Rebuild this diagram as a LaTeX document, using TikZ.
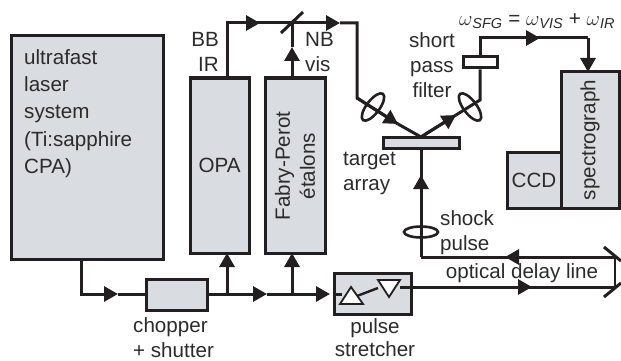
\documentclass[tikz,border=0pt]{standalone}
\usepackage{fontspec}
\setmainfont{Liberation Sans}
\usepackage{tikz}
\usetikzlibrary{arrows.meta,shapes.geometric}
\definecolor{inkline}{HTML}{231F20}
\definecolor{boxgray}{HTML}{D9DCE1}
\definecolor{inktext}{HTML}{2B2B2B}
\tikzset{
  unit/.style={draw=inkline,line width=3pt,fill=boxgray,inner sep=0pt,text=inktext,font=\fontsize{20.6}{26}\selectfont},
  lbl/.style={inner sep=0pt,text=inktext,font=\fontsize{20.6}{25}\selectfont},
  beam/.style={draw=inkline,line width=3pt},
  tipped/.style={beam,-{Triangle[length=14pt,width=15pt]}},
  lens/.style={ellipse,draw=inkline,line width=2.6pt,inner sep=0pt,minimum width=33pt,minimum height=13pt},
  prism/.style={draw=inkline,line width=1.8pt,fill=white},
}
\begin{document}
\begin{tikzpicture}[x=1pt,y=-1pt]
    \useasboundingbox (0,0) rectangle (621,361);
    % boxes
    \node[unit,minimum width=152pt,minimum height=223pt] (L) at (87,147.5) {};
    \node[lbl,align=left,anchor=north west,font=\fontsize{20.6}{27.4}\selectfont] (Ltext) at (24,49) {ultrafast\\laser\\system\\(Ti:sapphire\\CPA)};
    \node[unit,minimum width=59pt,minimum height=175pt] (OPA) at (219.5,165.5) {OPA};
    \node[unit,minimum width=60pt,minimum height=175pt,align=center] (FP) at (295,165.5) {};
    \node[lbl,rotate=90,align=center] (FPtext) at (295,166) {Fabry-Perot\\étalons};
    \node[unit,minimum width=61pt,minimum height=31pt] (CH) at (176.5,294.5) {};
    \node[unit,minimum width=77pt,minimum height=41pt] (PS) at (372.5,293.5) {};
    \node[unit,minimum width=76pt,minimum height=11pt] (T) at (421,142.5) {};
    \node[unit,fill=white,minimum width=34pt,minimum height=11pt] (F) at (480,62.5) {};
    \node[unit,minimum width=58pt,minimum height=136pt] (SP) at (590,140) {};
    \node[lbl,rotate=90] (SPtext) at (590,140) {spectrograph};
    \node[unit,minimum width=54pt,minimum height=56pt] (CCD) at (534,180) {CCD};
    % free ends of the beams
    \coordinate (La) at (81,259);
    \coordinate (Lb) at (81,294);
    \coordinate (Lc) at (118,294);
    \coordinate (OPAa) at (227,294);
    \coordinate (OPAb) at (227,253);
    \coordinate (OPAc) at (227,78);
    \coordinate (Ja) at (227,23);
    \coordinate (Jb) at (260,23);
    \coordinate (M) at (292,23);
    \coordinate (Ma) at (281,33);
    \coordinate (Mb) at (303,12);
    \coordinate (Jc) at (340,23);
    \coordinate (Jd) at (357,23);
    \coordinate (Je) at (357,98);
    \coordinate (Jf) at (398,124);
    \coordinate (Ta) at (421,137);
    \coordinate (Tb) at (456,115);
    \coordinate (Tc) at (480,100);
    \coordinate (Sa) at (480,38);
    \coordinate (Sb) at (540,38);
    \coordinate (Sc) at (588,38);
    \coordinate (Sd) at (588,72);
    \coordinate (Ca) at (267,294);
    \coordinate (Cb) at (292,294);
    \coordinate (Cc) at (330,294);
    \coordinate (FPa) at (292,78);
    \coordinate (FPb) at (292,47);
    \coordinate (Ra) at (411,287);
    \coordinate (Rb) at (532,287);
    \coordinate (Rc) at (615,287);
    \coordinate (Rd) at (615,257);
    \coordinate (Re) at (505,257);
    \coordinate (Rf) at (421,257);
    \coordinate (Rg) at (421,175);
    \coordinate (Tu) at (421,148);
    % beams
    \draw[tipped] (La) -- (Lb) -- (Lc);
    \draw[beam] (Lc) -- (CH.west |- Lc);
    \draw[tipped] (CH.east |- Lc) -- (Ca);
    \draw[beam] (Ca) -- (Cb);
    \draw[tipped] (Cb) -- (Cc);
    \draw[tipped] (OPAa) -- (OPAb);
    \draw[tipped] (Cb) -- (FPa |- OPAb);
    \draw[beam] (OPAc) -- (Ja) -- (M);
    \draw[tipped] (Ja) -- (Jb);
    \draw[tipped] (FPa) -- (FPb);
    \draw[beam] (FPb) -- (M);
    \draw[beam] (Ma) -- (Mb);
    \draw[tipped] (M) -- (Jc);
    \draw[beam] (Jc) -- (Jd) -- (Je) -- (Jf);
    \draw[tipped] (Je) -- (Jf);
    \draw[beam] (Jf) -- (Ta) -- (Tb);
    \draw[tipped] (Ta) -- (Tb);
    \draw[beam] (Tb) -- (Tc) -- (F.south -| Tc);
    \draw[beam] (F.north -| Sa) -- (Sa) -- (Sb);
    \draw[tipped] (Sa) -- (Sb);
    \draw[beam] (Sb) -- (Sc);
    \draw[tipped] (Sc) -- (Sd);
    \draw[beam] (Ra) -- (Rc);
    \draw[tipped] (Ra) -- (Rb);
    \draw[beam] (Rd) -- (Rf);
    \draw[tipped] (Rd) -- (Re);
    \draw[beam] (Rf) -- (Tu);
    \draw[tipped] (Rf) -- (Rg);
    \draw[draw=inkline,line width=1.4pt] (Rc) -- (Rd);
    \draw[beam] (604,247) -- (621,261);
    \draw[beam] (604,297) -- (621,283);
    % lenses
    \node[lens,rotate=53] (LI) at (373,107) {};
    \node[lens,rotate=-53] (LO) at (470,107) {};
    \node[lens,minimum width=34pt,minimum height=11pt] (LS) at (421,232) {};
    % stretcher
    \draw[beam,line width=2.4pt] (357,296) -- (378,288);
    \draw[beam] (334,294) -- (342,294);
    \draw[prism] (340,304) -- (363,304) -- (351,287) -- cycle;
    \draw[prism] (378,280) -- (400,280) -- (389,297) -- cycle;
    \draw[beam] (400,287) -- (Ra);
    % labels
    \node[lbl,align=right,anchor=east] (BB) at (219,52) {BB\\IR};
    \node[lbl,align=left,anchor=west] (NB) at (305,52) {NB\\vis};
    \node[lbl,align=center] (SPF) at (432,65) {short\\pass\\filter};
    \node[lbl,align=left,anchor=west] (TA) at (343,173) {target\\array};
    \node[lbl,align=left,anchor=west] (SH) at (440,233) {shock\\pulse};
    \node[lbl] (ODL) at (522,273) {optical delay line};
    \node[lbl,align=center,font=\fontsize{20.6}{23}\selectfont] (PST) at (375,338) {pulse\\stretcher};
    \node[lbl,align=left,anchor=north west] (CHT) at (133,317) {chopper\\+ shutter};
    \node[lbl,anchor=center] (W) at (537,21) {$\omega$\textsubscript{\textit{SFG}} = $\omega$\textsubscript{\textit{VIS}} + $\omega$\textsubscript{\textit{IR}}};
\end{tikzpicture}
\end{document}
